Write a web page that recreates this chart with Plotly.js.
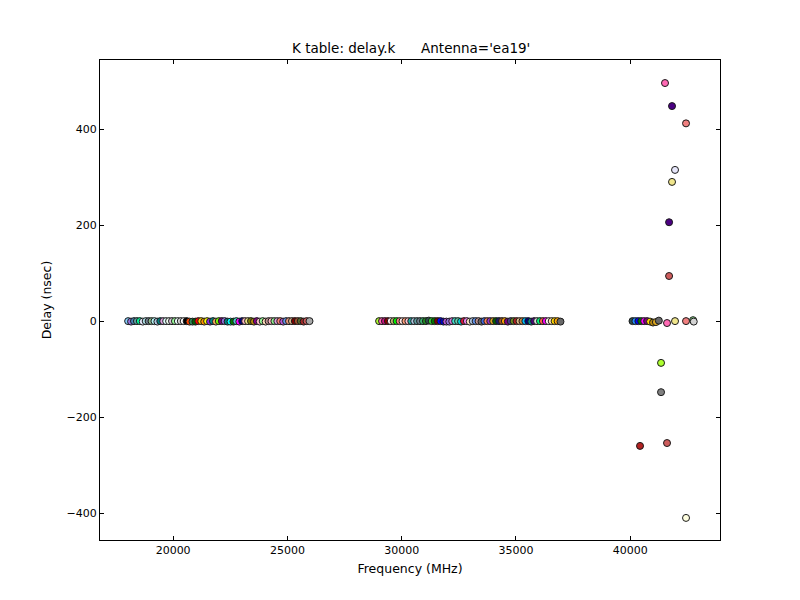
<!DOCTYPE html>
<html>
<head>
<meta charset="utf-8">
<script src="https://cdn.plot.ly/plotly-3.0.1.min.js"></script>
<style>html,body{margin:0;padding:0;background:#fff;}#chart{width:800px;height:600px;}</style>
</head>
<body>
<div id="chart"></div>
<script>
// K band spectral windows (MHz) and delays (nsec)
const freqK = [18031,18159,18287,18415,18543,18671,18799,18927,19055,19183,19311,19439,19567,19695,19823,19951,20079,20207,20335,20463,20591,20719,20847,20975,21103,21231,21359,21487,21615,21743,21871,21999,22127,22255,22383,22511,22639,22767,22895,23023,23151,23279,23407,23535,23663,23791,23919,24047,24175,24303,24431,24559,24687,24815,24943,25071,25199,25327,25455,25583,25711,25839,25967];
const delayK = [0,-1,0,0,0,-1,0,0,0,0,-1,0,0,0,0,0,0,0,0,0,0,-1,-1,-1,0,0,-1,0,-1,0,-1,0,0,0,-1,-1,-1,0,-1,0,0,0,0,-1,0,-1,0,-1,0,0,0,0,0,-1,0,0,0,0,0,0,-1,0,0];
const colorK = ["lightskyblue","mediumpurple","steelblue","cadetblue","mediumspringgreen","lavender","powderblue","slategray","darkseagreen","paleturquoise","lightsteelblue","teal","plum","lightcyan","honeydew","thistle","palegreen","azure","lightgray","white","black","orangered","seagreen","darkgreen","red","gold","darkorange","yellow","blueviolet","darkcyan","sandybrown","chartreuse","purple","mediumpurple","teal","cyan","green","mediumturquoise","magenta","navy","lightpink","khaki","olive","darkgoldenrod","darkmagenta","pink","palegreen","peachpuff","rosybrown","lightpink","lightgreen","plum","salmon","mediumorchid","cornflowerblue","darksalmon","tan","maroon","sienna","darkolivegreen","brown","indianred","darkgray"];

// Ka band
const freqKa = [29012,29140,29268,29396,29524,29652,29780,29908,30036,30164,30292,30420,30548,30676,30804,30932,31060,31188,31316,31444,31572,31700,31828,31956,32084,32212,32340,32468,32596,32724,32852,32980,33108,33236,33364,33492,33620,33748,33876,34004,34132,34260,34388,34516,34644,34772,34900,35028,35156,35284,35412,35540,35668,35796,35924,36052,36180,36308,36436,36564,36692,36820,36948];
const delayKa = [0,0,0,0,0,0,0,0,0,0,0,0,0,0,0,0,0,1,0,0,0,0,-1,-1,-1,0,0,0,-1,0,0,-1,0,0,0,-1,0,0,0,0,0,0,0,0,-1,0,0,0,0,0,0,0,-1,0,0,0,0,0,0,0,0,0,-1];
const colorKa = ["greenyellow","hotpink","mediumvioletred","darkred","lavenderblush","darkkhaki","lime","lightcoral","mistyrose","lightsalmon","pink","lightseagreen","lightsteelblue","cadetblue","slategray","mediumseagreen","forestgreen","darkslategray","limegreen","green","maroon","blue","mediumblue","mediumorchid","mediumpurple","orchid","turquoise","mediumaquamarine","darkturquoise","crimson","violet","bisque","lightsteelblue","cornflowerblue","rosybrown","dimgray","royalblue","coral","darkorchid","goldenrod","darkgreen","midnightblue","sienna","orange","purple","darkslateblue","olivedrab","firebrick","burlywood","peru","deepskyblue","navy","darkcyan","indigo","gainsboro","springgreen","tomato","fuchsia","seashell","moccasin","gold","orange","dimgray"];

// Q band
const freqQ = [40100,40228,40356,40484,40612,40740,40868,40996,41124,41252,40429,41348,41348,41522,41610,41610,41700,41700,41829,41829,41960,41960,42441,42441,42441,42750,42780];
const delayQ = [0,0,0,0,0,0,-1,-3,-2,1,-260,-87,-148,496,-254,-4,206,94,448,290,315,0,412,0,-410,2,-1];
const colorQ = ["darkslategray","dodgerblue","blue","green","magenta","purple","gold","darkgoldenrod","goldenrod","dimgray","firebrick","greenyellow","gray","hotpink","indianred","hotpink","indigo","indianred","indigo","khaki","lavender","khaki","lightcoral","lightcoral","lightyellow","lightgreen","lightgray"];

const band = (x, y, c) => ({
  x: x, y: y, type: 'scatter', mode: 'markers', hoverinfo: 'x+y',
  marker: {size: 7, color: c, line: {color: '#1a1a1a', width: 1}}
});

const axisStyle = {
  showline: true, mirror: 'ticks', linecolor: '#000', linewidth: 1,
  ticks: 'inside', ticklen: 4, tickwidth: 1, tickcolor: '#000',
  showgrid: false, zeroline: false,
  tickfont: {family: 'DejaVu Sans', size: 11, color: '#000'}
};

const layout = {
  width: 800, height: 600,
  margin: {l: 100, r: 80, t: 60, b: 60},
  paper_bgcolor: '#fff', plot_bgcolor: '#fff',
  showlegend: false,
  font: {family: 'DejaVu Sans', color: '#000'},
  title: {text: "K table: delay.k\u00a0\u00a0\u00a0\u00a0\u00a0\u00a0Antenna='ea19'", font: {family: 'DejaVu Sans', size: 13.5, color: '#000'}, x: 0.514, xanchor: 'center', y: 0.92, yanchor: 'middle'},
  xaxis: Object.assign({}, axisStyle, {
    range: [16800, 43928], tickvals: [20000, 25000, 30000, 35000, 40000],
    ticktext: ['20000','25000','30000','35000','40000'],
    title: {text: 'Frequency (MHz)', font: {family: 'DejaVu Sans', size: 12.5, color: '#000'}, standoff: 8}
  }),
  yaxis: Object.assign({}, axisStyle, {
    range: [-456, 544], tickvals: [-400, -200, 0, 200, 400],
    title: {text: 'Delay (nsec)', font: {family: 'DejaVu Sans', size: 12.5, color: '#000'}, standoff: 12}
  })
};

Plotly.newPlot('chart', [band(freqK, delayK, colorK), band(freqKa, delayKa, colorKa), band(freqQ, delayQ, colorQ)], layout, {displayModeBar: false, staticPlot: true});
</script>
</body>
</html>
